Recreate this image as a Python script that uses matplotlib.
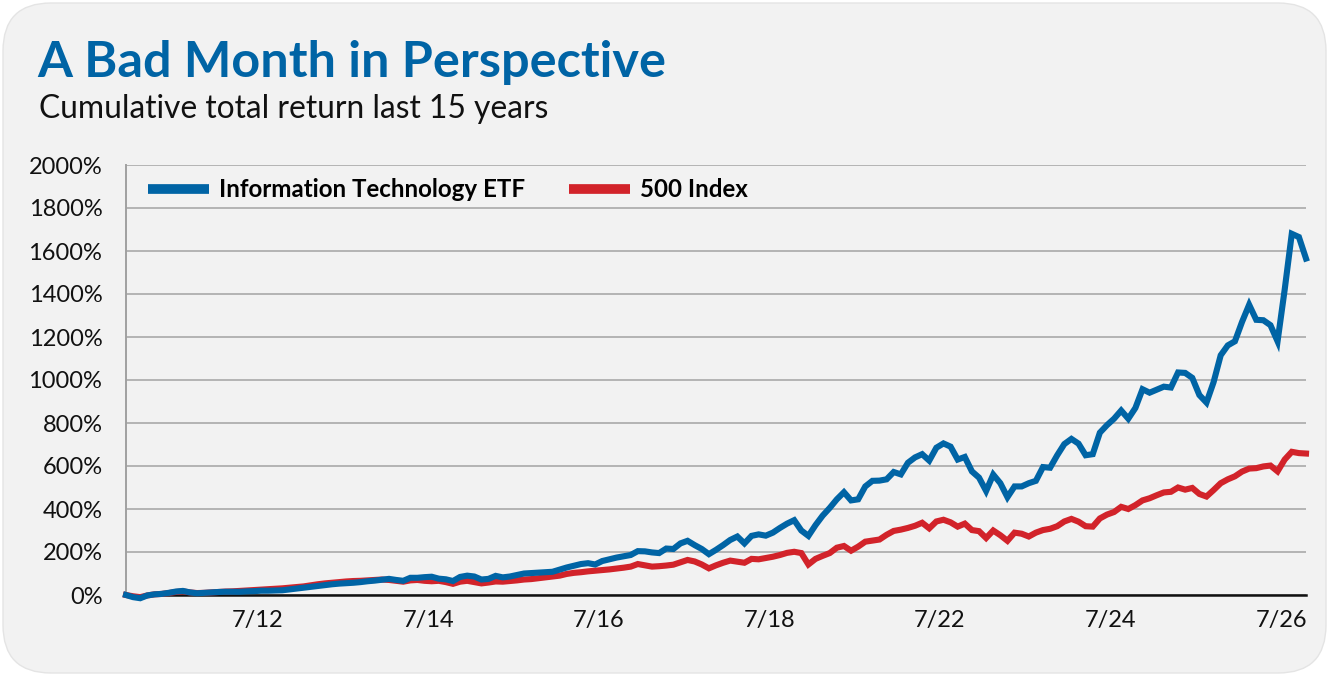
import matplotlib
matplotlib.use("Agg")
import matplotlib.pyplot as plt
import matplotlib.patches as patches
from matplotlib.transforms import IdentityTransform

plt.rcParams["font.family"] = ["Lato", "DejaVu Sans"]

TITLE = "A Bad Month in Perspective"
SUBTITLE = "Cumulative total return last 15 years"
SERIES_NAMES = ["Information Technology ETF", "500 Index"]

# monthly cumulative total return, %
tech_etf = [
    0, -10, -15, -2, 3, 5, 10, 16, 19, 12, 8, 10, 12, 14, 15, 15, 15, 17, 18, 20,
    20, 21, 22, 26, 30, 34, 38, 42, 46, 50, 53, 55, 57, 60, 64, 67, 71, 75, 70, 66,
    80, 80, 83, 85, 76, 73, 65, 84, 90, 86, 72, 75, 89, 82, 86, 93, 100, 102, 104, 106,
    108, 118, 128, 136, 144, 148, 142, 158, 166, 174, 180, 186, 204, 203, 198, 195, 216, 214, 240, 252,
    232, 214, 190, 210, 232, 256, 272, 240, 275, 282, 276, 290, 312, 332, 348, 300, 275, 325, 369, 405,
    445, 478, 440, 445, 505, 531, 532, 538, 572, 561, 615, 640, 655, 625, 685, 705, 690, 630, 642, 575,
    546, 484, 560, 520, 455, 505, 505, 520, 531, 595, 592, 650, 702, 726, 704, 650, 655, 755, 790, 820,
    858, 820, 870, 957, 941, 955, 969, 965, 1035, 1033, 1010, 930, 895, 990, 1115, 1161, 1180, 1270, 1350, 1280,
    1278, 1255, 1180, 1420, 1680, 1665, 1565,
]
sp500 = [
    0, -6, -10, -2, 3, 5, 9, 14, 17, 12, 9, 10, 12, 14, 16, 17, 19, 21, 23, 25,
    27, 29, 31, 34, 37, 40, 45, 50, 54, 57, 60, 63, 65, 66, 68, 70, 72, 70, 66, 62,
    68, 70, 66, 64, 66, 60, 52, 62, 66, 60, 54, 58, 63, 62, 65, 68, 72, 74, 78, 82,
    86, 90, 98, 103, 106, 110, 113, 116, 119, 123, 127, 132, 144, 138, 132, 134, 137, 141, 152, 163,
    156, 142, 124, 138, 150, 160, 155, 150, 168, 166, 172, 178, 186, 196, 201, 195, 142, 168, 182, 195,
    220, 228, 206, 225, 248, 253, 258, 280, 298, 304, 312, 322, 336, 310, 342, 350, 338, 318, 332, 302,
    297, 265, 300, 278, 252, 290, 285, 272, 290, 302, 308, 320, 342, 354, 341, 320, 318, 356, 374, 386,
    410, 400, 418, 440, 450, 464, 477, 480, 500, 490, 498, 470, 458, 488, 520, 538, 552, 574, 588, 590,
    598, 602, 575, 630, 666, 660, 658,
]

tick_labels = ["7/12", "7/14", "7/16", "7/18", "7/22", "7/24", "7/26"]
first_tick = 18.5
tick_step = 24
y_ticks = list(range(0, 2001, 200))

BLUE = "#0064a5"
RED = "#d2232a"
PANEL = "#f2f2f2"

fig = plt.figure(figsize=(13.29, 6.76), dpi=100, facecolor="white")

# rounded panel behind everything (pixel coordinates)
panel = patches.FancyBboxPatch(
    (3, 3), 1323, 670, boxstyle="round,pad=0,rounding_size=48",
    facecolor=PANEL, edgecolor="#e4e4e4", linewidth=1.0,
    transform=IdentityTransform(), zorder=-10,
)
fig.patches.append(panel)

fig.text(37 / 1329, 1 - 77 / 676, TITLE, fontsize=36.3, fontweight="bold",
         color=BLUE, va="baseline", ha="left")
fig.text(39 / 1329, 1 - 118 / 676, SUBTITLE, fontsize=22.9,
         color="#111111", va="baseline", ha="left")

ax = fig.add_axes([126 / 1329, 81 / 676, 1180 / 1329, 430 / 676])
ax.set_facecolor("none")
ax.set_zorder(1)

x = list(range(len(tech_etf)))
ax.plot(x, tech_etf, color=BLUE, lw=4.4, solid_joinstyle="miter",
        label=SERIES_NAMES[0], zorder=4, clip_on=False)
ax.plot(x, sp500, color=RED, lw=4.4, solid_joinstyle="miter",
        label=SERIES_NAMES[1], zorder=3, clip_on=False)

ax.set_xlim(0, len(tech_etf) - 1)
ax.set_ylim(0, 2000)
ax.set_yticks(y_ticks)
ax.set_yticklabels([f"{v}%" for v in y_ticks])
ax.set_xticks([first_tick + tick_step * i for i in range(len(tick_labels))])
ax.set_xticklabels(tick_labels)
ax.tick_params(axis="both", length=0, labelsize=17, labelcolor="#111111")
ax.tick_params(axis="y", pad=17)
ax.tick_params(axis="x", pad=11)

ax.yaxis.grid(True, color="#b4b4b4", lw=1.4)
ax.set_axisbelow(True)
for side in ("top", "right"):
    ax.spines[side].set_visible(False)
ax.spines["left"].set_color("#a0a0a0")
ax.spines["left"].set_linewidth(1.4)
ax.spines["bottom"].set_color("#111111")
ax.spines["bottom"].set_linewidth(1.8)
ax.spines["bottom"].set_zorder(2)

leg = ax.legend(loc="center left", bbox_to_anchor=(0.0, 0.943), ncol=2,
                frameon=False, handlelength=2.55, handletextpad=0.4,
                columnspacing=1.8, prop={"weight": "bold", "size": 17.4})
for line in leg.get_lines():
    line.set_linewidth(7)
    line.set_solid_capstyle("butt")

fig.savefig("out.png", dpi=100, facecolor="white")
